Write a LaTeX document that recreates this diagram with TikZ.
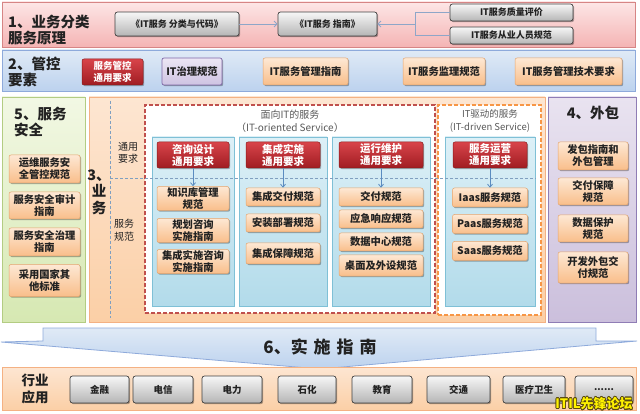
\documentclass[tikz,border=0pt]{standalone}
\usepackage{fontspec}
\setmainfont{Noto Sans CJK SC}
\usepackage{contour}
\contourlength{0.7pt}
\usetikzlibrary{shadows,arrows.meta}
\definecolor{txt}{HTML}{222222}
\definecolor{pinkT}{HTML}{FDE6E6}\definecolor{pinkB}{HTML}{F4B4B4}\definecolor{pinkBd}{HTML}{D68585}
\definecolor{blT}{HTML}{E0EAF6}\definecolor{blB}{HTML}{BCD2EE}\definecolor{blBd}{HTML}{8EAADB}
\definecolor{grT}{HTML}{F7F7F7}\definecolor{grB}{HTML}{B5B5B5}\definecolor{grBd}{HTML}{404040}
\definecolor{rdT}{HTML}{D8444A}\definecolor{rdB}{HTML}{A01C22}\definecolor{rdBd}{HTML}{8C1A1A}
\definecolor{orT}{HTML}{FDE8D4}\definecolor{orB}{HTML}{F9BE8A}\definecolor{orBd}{HTML}{E3A46E}
\definecolor{puT}{HTML}{ECE6F4}\definecolor{puB}{HTML}{CEC3E2}\definecolor{puBd}{HTML}{8069A8}
\definecolor{gnT}{HTML}{F2F8E4}\definecolor{gnB}{HTML}{D6E8B2}\definecolor{gnBd}{HTML}{B3CC82}
\definecolor{moT}{HTML}{FDE6D2}\definecolor{moB}{HTML}{FBCFA6}\definecolor{moBd}{HTML}{F4B183}
\definecolor{cbT}{HTML}{DDF0F7}\definecolor{cbB}{HTML}{B2DBEA}\definecolor{cbBd}{HTML}{7FC0D6}
\definecolor{pcT}{HTML}{E9E3F0}\definecolor{pcB}{HTML}{CBBFDC}\definecolor{pcBd}{HTML}{8F7DB5}
\definecolor{conn}{HTML}{8EA6C8}
\definecolor{dashR}{HTML}{C0504D}
\definecolor{dashO}{HTML}{F79646}
\definecolor{dashB}{HTML}{7F9FC0}
\definecolor{arr}{HTML}{5B8CC0}
\definecolor{sub}{HTML}{595959}
\definecolor{wmo}{HTML}{5A4A10}
\begin{document}
\begin{tikzpicture}[x=1pt,y=-1pt,
  shd/.style={drop shadow={shadow xshift=1.2pt,shadow yshift=-1.2pt,opacity=0.3,fill=black}},
  base/.style={inner sep=0pt, align=center, text=txt, font=\bfseries\fontsize{10.3}{12}\selectfont},
  panel/.style={inner sep=0pt, line width=0.8pt},
  graybox/.style={base, draw=grBd, line width=0.7pt, top color=grT, bottom color=grB, rounded corners=2.5pt, shd, font=\bfseries\fontsize{9}{10}\selectfont},
  redbox/.style={base, draw=rdBd, line width=0.5pt, top color=rdT, bottom color=rdB, text=white, rounded corners=2pt, shd},
  orbox/.style={base, draw=orBd, line width=0.5pt, top color=orT, bottom color=orB, rounded corners=2pt, shd},
  purbox/.style={base, draw=puBd, line width=0.7pt, top color=puT, bottom color=puB, rounded corners=2pt, shd},
  title/.style={inner sep=0pt, align=left, text=txt, font=\bfseries\fontsize{14.5}{16}\selectfont},
  small/.style={inner sep=0pt, align=center, text=txt, font=\fontsize{10}{12.5}\selectfont},
  subt/.style={inner sep=0pt, align=center, text=sub, font=\fontsize{10}{12.5}\selectfont},
  conline/.style={draw=conn, line width=0.9pt},
  down/.style={draw=arr, line width=0.8pt, -{Straight Barb[length=3pt,width=5pt]}},
  dashline/.style={draw=dashB, line width=0.7pt, dash pattern=on 3pt off 2pt}
]
\useasboundingbox (0,0) rectangle (640,414);

% ---------- band 1 ----------
\node[panel, draw=pinkBd, top color=pinkT, bottom color=pinkB, minimum width=633, minimum height=45] (band1) at (318.5,24.5) {};
\node[title, anchor=west] (t1) at (8,30) {1、业务分类\\服务原理};
\node[graybox, minimum width=124, minimum height=24] (b11) at (177,24) {《IT服务 分类与代码》};
\node[graybox, minimum width=99, minimum height=24] (b12) at (327.5,24) {《IT服务 指南》};
\node[graybox, minimum width=123, minimum height=17] (b13) at (511.5,12.5) {IT服务质量评价};
\node[graybox, minimum width=123, minimum height=17] (b14) at (511.5,35.5) {IT服务从业人员规范};
\coordinate (j1) at (415,24);
\draw[conline, -{Straight Barb[length=3pt,width=6pt]}] (b11) -- (b12);
\draw[conline] (b13.west) -| (j1);
\draw[conline] (b14.west) -| (j1);
\draw[conline, -{Straight Barb[length=3pt,width=6pt]}] (j1) -- (b12.east);

% ---------- band 2 ----------
\node[panel, draw=blBd, top color=blT, bottom color=blB, minimum width=633, minimum height=41] (band2) at (318.5,70.5) {};
\node[title, anchor=west] (t2) at (8,72) {2、管控\\要素};
\node[redbox, minimum width=61, minimum height=26, font=\bfseries\fontsize{9.5}{11.5}\selectfont] (r2) at (112.5,72) {服务管控\\通用要求};
\node[purbox, minimum width=60, minimum height=27] (p2) at (192,71.5) {IT治理规范};
\node[orbox, minimum width=85, minimum height=27] (o21) at (305.5,71.5) {IT服务管理指南};
\node[orbox, minimum width=82, minimum height=27] (o22) at (444,71.5) {IT服务监理规范};
\node[orbox, minimum width=107, minimum height=27] (o23) at (568.5,71.5) {IT服务管理技术要求};

% ---------- column 5 ----------
\node[panel, draw=gnBd, top color=gnT, bottom color=gnB, minimum width=83, minimum height=225] (col5) at (43.5,209.5) {};
\node[title, anchor=west] (t5) at (14,122.5) {5、服务\\安全};
\node[orbox, minimum width=71, minimum height=28] (g1) at (44.5,169) {运维服务安\\全管控规范};
\node[orbox, minimum width=71, minimum height=27] (g2) at (44.5,205.5) {服务安全审计\\指南};
\node[orbox, minimum width=71, minimum height=28] (g3) at (44.5,242) {服务安全治理\\指南};
\node[orbox, minimum width=71, minimum height=32] (g4) at (44.5,280.5) {采用国家其\\他标准};

% ---------- column 3 ----------
\node[panel, draw=moBd, top color=moT, bottom color=moB, minimum width=456, minimum height=225] (col3) at (317,209.5) {};
\node[title, align=center, font=\bfseries\fontsize{14.5}{16.5}\selectfont] (t3) at (99,192) {3、\\业\\务};
\node[small] (ty) at (128,153) {通用\\要求};
\node[small] (fg) at (124,230) {服务\\规范};
\coordinate (vd1) at (110,101);
\coordinate (vd2) at (110,318);
\draw[dashline] (vd1) -- (vd2);

% red dashed box
\node[panel, fill=white, draw=dashR, line width=1.3pt, dash pattern=on 4pt off 2pt, minimum width=290, minimum height=208] (itor) at (290,209) {};
\node[subt] (itort) at (290,121.5) {面向IT的服务\\（IT-oriented Service）};
% orange dashed box
\node[panel, fill=white, draw=dashO, line width=1.3pt, dash pattern=on 4pt off 2pt, minimum width=103, minimum height=210] (itdr) at (489.5,210) {};
\node[subt, font=\fontsize{9.5}{12.5}\selectfont] (itdrt) at (490,121) {IT驱动的服务\\(IT-driven Service)};

% blue columns
\node[panel, draw=cbBd, top color=cbT, bottom color=cbB, minimum width=82, minimum height=169] (c1) at (193,221.5) {};
\node[panel, draw=cbBd, top color=cbT, bottom color=cbB, minimum width=88, minimum height=169] (c2) at (283,221.5) {};
\node[panel, draw=cbBd, top color=cbT, bottom color=cbB, minimum width=98, minimum height=169] (c3) at (381,221.5) {};
\node[panel, draw=cbBd, top color=cbT, bottom color=cbB, minimum width=90, minimum height=169] (c4) at (490,221.5) {};

\coordinate (hd1) at (110,178);
\coordinate (hd2) at (536,178);
\draw[dashline] (hd1) -- (hd2);

% headers
\node[redbox, minimum width=72, minimum height=26, font=\bfseries\fontsize{10.5}{12}\selectfont] (h1) at (193,155) {咨询设计\\通用要求};
\node[redbox, minimum width=74, minimum height=26, font=\bfseries\fontsize{10.5}{12}\selectfont] (h2) at (283,155) {集成实施\\通用要求};
\node[redbox, minimum width=84, minimum height=26, font=\bfseries\fontsize{10.5}{12}\selectfont] (h3) at (381,155) {运行维护\\通用要求};
\node[redbox, minimum width=74, minimum height=26, font=\bfseries\fontsize{10.5}{12}\selectfont] (h4) at (490,155) {服务运营\\通用要求};

% items
\node[orbox, minimum width=72, minimum height=24] (i11) at (193,198.5) {知识库管理\\规范};
\node[orbox, minimum width=72, minimum height=24] (i12) at (193,230.5) {规划咨询\\实施指南};
\node[orbox, minimum width=72, minimum height=24] (i13) at (193,261.5) {集成实施咨询\\实施指南};

\node[orbox, minimum width=74, minimum height=18] (i21) at (283,197) {集成交付规范};
\node[orbox, minimum width=74, minimum height=18] (i22) at (283,223) {安装部署规范};
\node[orbox, minimum width=74, minimum height=21] (i23) at (283,253.5) {集成保障规范};

\node[orbox, minimum width=84, minimum height=18] (i31) at (381,197) {交付规范};
\node[orbox, minimum width=84, minimum height=18] (i32) at (381,219) {应急响应规范};
\node[orbox, minimum width=84, minimum height=18] (i33) at (381,242) {数据中心规范};
\node[orbox, minimum width=84, minimum height=21] (i34) at (381,265.5) {桌面及外设规范};

\node[orbox, minimum width=75, minimum height=19] (i41) at (490,197.5) {Iaas服务规范};
\node[orbox, minimum width=75, minimum height=19] (i42) at (490,224) {Paas服务规范};
\node[orbox, minimum width=75, minimum height=19] (i43) at (490,251) {Saas服务规范};

\draw[down] (h1) -- (i11);
\draw[down] (h2) -- (i21);
\draw[down] (h3) -- (i31);
\draw[down] (h4) -- (i41);

% ---------- column 4 ----------
\node[panel, draw=pcBd, top color=pcT, bottom color=pcB, minimum width=88, minimum height=225] (col4) at (592,209.5) {};
\node[title, align=center] (t4) at (593,113) {4、外包};
\node[orbox, minimum width=70, minimum height=28] (q1) at (593,156) {发包指南和\\外包管理};
\node[orbox, minimum width=70, minimum height=27] (q2) at (593,191.5) {交付保障\\规范};
\node[orbox, minimum width=70, minimum height=27] (q3) at (593,228.5) {数据保护\\规范};
\node[orbox, minimum width=70, minimum height=31] (q4) at (593,267.5) {开发外包交\\付规范};

% ---------- band 6 ----------
\draw[draw=blBd, line width=0.8pt, top color=blT, bottom color=blB]
  (43,328) -- (596,328) -- (596,341) -- (637,341) -- (320,369) -- (1,342) -- (43,341) -- cycle;
\node[inner sep=0pt, text=txt, font=\bfseries\fontsize{17}{18}\selectfont] (t6) at (320,347) {6、实\hspace{0.35em}施\hspace{0.35em}指\hspace{0.35em}南};

% ---------- bottom band ----------
\node[panel, draw=moBd, top color=moT, bottom color=moB, minimum width=634, minimum height=43] (band7) at (319,388.5) {};
\node[title, align=center, font=\bfseries\fontsize{13.5}{17}\selectfont] (t7) at (35,389) {行业\\应用};
\node[graybox, minimum width=59, minimum height=27, font=\bfseries\fontsize{9.5}{10}\selectfont] (k1) at (99.5,389.5) {金融};
\node[graybox, minimum width=60, minimum height=27, font=\bfseries\fontsize{9.5}{10}\selectfont] (k2) at (163,389.5) {电信};
\node[graybox, minimum width=60, minimum height=27, font=\bfseries\fontsize{9.5}{10}\selectfont] (k3) at (232,389.5) {电力};
\node[graybox, minimum width=58, minimum height=27, font=\bfseries\fontsize{9.5}{10}\selectfont] (k4) at (307,389.5) {石化};
\node[graybox, minimum width=60, minimum height=27, font=\bfseries\fontsize{9.5}{10}\selectfont] (k5) at (382,389.5) {教育};
\node[graybox, minimum width=63, minimum height=27, font=\bfseries\fontsize{9.5}{10}\selectfont] (k6) at (458.5,389.5) {交通};
\node[graybox, minimum width=62, minimum height=27, font=\bfseries\fontsize{9.5}{10}\selectfont] (k7) at (534,389.5) {医疗卫生};
\node[graybox, minimum width=58, minimum height=27, font=\bfseries\fontsize{9.5}{10}\selectfont] (k8) at (604,389.5) {......};

\node[inner sep=0pt, text=yellow, font=\bfseries\fontsize{13}{13}\selectfont] (wm) at (594,404) {\contour{wmo}{ITIL先锋论坛}};
\end{tikzpicture}
\end{document}
